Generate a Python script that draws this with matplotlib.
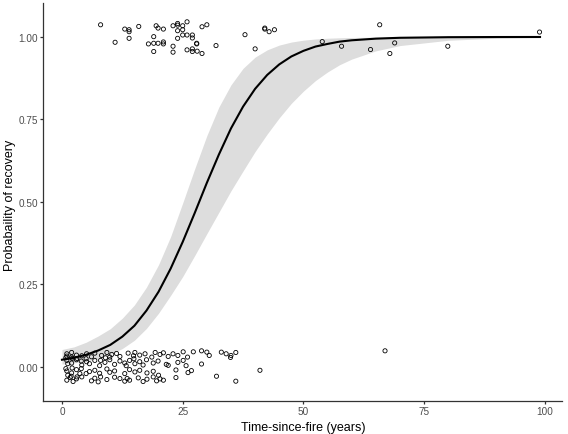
"""Logistic fit of recovery probability against time since fire."""

import matplotlib
matplotlib.use('Agg')
import matplotlib.pyplot as plt

# fitted curve and 95% band
curve_x = [0, 2.5, 5, 7.5, 10, 12.5, 15, 17.5, 20, 22.5, 25, 27.5, 30, 32.5,
           35, 37.5, 40, 42.5, 45, 47.5, 50, 52.5, 55, 57.5, 60, 65, 70, 80,
           90, 99]
curve_p = [0.022, 0.028, 0.037, 0.050, 0.067, 0.092, 0.125, 0.171, 0.228,
           0.298, 0.379, 0.467, 0.558, 0.644, 0.723, 0.789, 0.843, 0.885,
           0.917, 0.941, 0.958, 0.971, 0.979, 0.986, 0.990, 0.995, 0.9976,
           0.9994, 0.9999, 1.0]
band_lo = [0.009, 0.0125, 0.018, 0.026, 0.038, 0.056, 0.081, 0.117, 0.163,
           0.217, 0.274, 0.338, 0.404, 0.469, 0.534, 0.594, 0.653, 0.706,
           0.755, 0.799, 0.836, 0.868, 0.894, 0.916, 0.933, 0.958, 0.974,
           0.990, 0.9964, 0.9986]
band_hi = [0.053, 0.061, 0.075, 0.094, 0.116, 0.148, 0.188, 0.242, 0.310,
           0.395, 0.497, 0.601, 0.701, 0.788, 0.855, 0.905, 0.939, 0.961,
           0.9755, 0.9846, 0.9904, 0.994, 0.9962, 0.9976, 0.9985, 0.9994,
           0.9998, 1.0, 1.0, 1.0]

# jittered observations, recovered sites (near 1)
rec_x = [8.0, 11.0, 13.0, 13.9, 13.9, 13.9, 15.9, 17.9, 19.0, 19.0, 19.0,
         19.5, 19.9, 19.9, 21.0, 21.0, 21.0, 23.0, 23.0, 23.0, 23.95, 23.95,
         23.95, 23.95, 25.0, 25.0, 25.0, 25.9, 25.9, 25.9, 27.0, 27.0, 27.0,
         27.0, 27.9, 27.9, 28.0, 29.0, 29.0, 30.0, 31.9, 37.9, 40.0, 42.0,
         42.0, 42.9, 44.0, 53.9, 57.9, 63.9, 65.8, 67.9, 68.9, 79.9, 98.9]
rec_y = [1.037, 0.984, 1.024, 1.022, 1.016, 0.996, 1.032, 0.979, 1.001,
         0.981, 0.956, 1.034, 1.027, 0.981, 1.024, 0.985, 0.979, 1.034,
         0.972, 0.954, 1.041, 1.036, 1.019, 0.996, 1.034, 1.022, 1.006,
         1.046, 1.006, 0.961, 1.006, 0.997, 0.964, 0.956, 0.981, 0.979,
         0.957, 1.031, 0.950, 1.037, 0.974, 1.007, 0.964, 1.027, 1.024,
         1.016, 1.022, 0.986, 0.972, 0.962, 1.037, 0.950, 0.982, 0.972,
         1.015]

# jittered observations, unrecovered sites (near 0)
unrec_x = [1.0, 1.0, 2.0, 2.0, 3.0, 4.1, 5.1, 6.1, 6.8, 8.2, 9.3, 9.9, 10.3,
           11.3, 12.0, 13.7, 14.8, 15.1, 16.1, 17.2, 18.6, 19.3, 20.3, 21.0,
           22.0, 23.0, 25.1, 27.2, 28.9, 34.0, 34.9, 36.0,
           1.0, 2.0, 3.0, 4.1, 5.1, 5.7, 6.8, 7.8, 8.9, 9.9, 10.9, 12.0, 13.0,
           13.3, 14.0, 15.1, 16.1, 16.8, 17.5, 18.9, 19.9, 21.6, 24.0, 25.1,
           25.7, 28.9,
           1.0, 2.0, 3.0, 3.7, 5.7, 6.8, 7.8, 9.3, 9.9, 10.9, 13.0, 14.0,
           15.1, 16.1, 17.6, 18.9, 23.6, 26.1, 26.8, 41.0,
           1.0, 1.7, 2.3, 3.0, 4.1, 6.1, 6.8, 7.5, 9.3, 10.9, 13.0, 13.5,
           14.0, 15.8, 16.8, 17.6, 18.9, 19.6, 20.3, 21.0, 23.6, 32.0, 36.0,
           66.9,
           0.8, 0.8, 1.2, 1.2, 2.1, 2.1, 1.9, 3.1, 3.1, 4.0, 4.0, 5.0, 5.0,
           8.0, 8.0, 9.0, 12.0, 14.9, 20.0, 22.0, 24.0, 26.0, 30.0, 30.5,
           33.0, 35.0]
unrec_y = [0.040, 0.033, 0.044, 0.030, 0.036, 0.034, 0.040, 0.031, 0.042,
           0.035, 0.044, 0.030, 0.038, 0.041, 0.032, 0.042, 0.034, 0.044,
           0.036, 0.040, 0.030, 0.044, 0.038, 0.043, 0.032, 0.040, 0.046,
           0.046, 0.049, 0.040, 0.029, 0.044,
           0.020, 0.012, 0.022, 0.006, 0.016, 0.010, 0.020, 0.004, 0.014,
           0.022, 0.008, 0.018, 0.012, 0.004, 0.020, 0.010, 0.016, 0.006,
           0.022, 0.012, 0.018, 0.008, 0.014, 0.020, 0.004, 0.009,
           -0.012, -0.018, -0.008, -0.020, -0.014, -0.010, -0.019, -0.006,
           -0.016, -0.012, -0.020, -0.008, -0.015, -0.010, -0.018, -0.013,
           -0.009, -0.017, -0.011, -0.010,
           -0.040, -0.032, -0.044, -0.036, -0.030, -0.042, -0.034, -0.045,
           -0.038, -0.031, -0.043, -0.035, -0.040, -0.033, -0.044, -0.037,
           -0.030, -0.042, -0.036, -0.040, -0.032, -0.028, -0.043, 0.049,
           0.028, -0.005, -0.025, 0.010, 0.026, -0.003, -0.028, 0.026,
           -0.030, 0.018, -0.005, 0.025, -0.020, 0.020, -0.030, 0.028,
           -0.035, 0.025, -0.025, 0.005, 0.035, 0.030, 0.045, 0.035, 0.045,
           0.035]

plt.rcParams['font.family'] = ['Liberation Sans', 'DejaVu Sans']

fig = plt.figure(figsize=(5.68, 4.35), dpi=100)
ax = fig.add_axes([0.0757, 0.0759, 0.9133, 0.9149])

ax.fill_between(curve_x, band_lo, band_hi, color='#DDDDDD', lw=0, zorder=1)
ax.plot(curve_x, curve_p, color='black', lw=1.5, zorder=2)
ax.scatter(rec_x, rec_y, s=9, facecolors='none', edgecolors='black',
           linewidths=0.6, zorder=3)
ax.scatter(unrec_x, unrec_y, s=9, facecolors='none', edgecolors='black',
           linewidths=0.6, zorder=3)

ax.set_xlim(-3.93, 103.5)
ax.set_ylim(-0.103, 1.103)
ax.set_xticks([0, 25, 50, 75, 100])
ax.set_yticks([0, 0.25, 0.5, 0.75, 1.0])
ax.set_yticklabels(['0.00', '0.25', '0.50', '0.75', '1.00'])

for side in ['top', 'right']:
    ax.spines[side].set_visible(False)
for side in ['left', 'bottom']:
    ax.spines[side].set_color('#333333')
    ax.spines[side].set_linewidth(0.9)
ax.tick_params(colors='#333333', labelcolor='#4D4D4D', labelsize=7.2,
               length=2.2, width=0.9, pad=1.5)

fig.text(303 / 568, 1 - 428 / 435, 'Time-since-fire (years)', fontsize=9,
         ha='center', va='center')
fig.text(10 / 568, 1 - 205 / 435, 'Probabaility of recovery', fontsize=9,
         ha='center', va='center', rotation=90)

fig.savefig('out.png', dpi=100)
plt.close()
